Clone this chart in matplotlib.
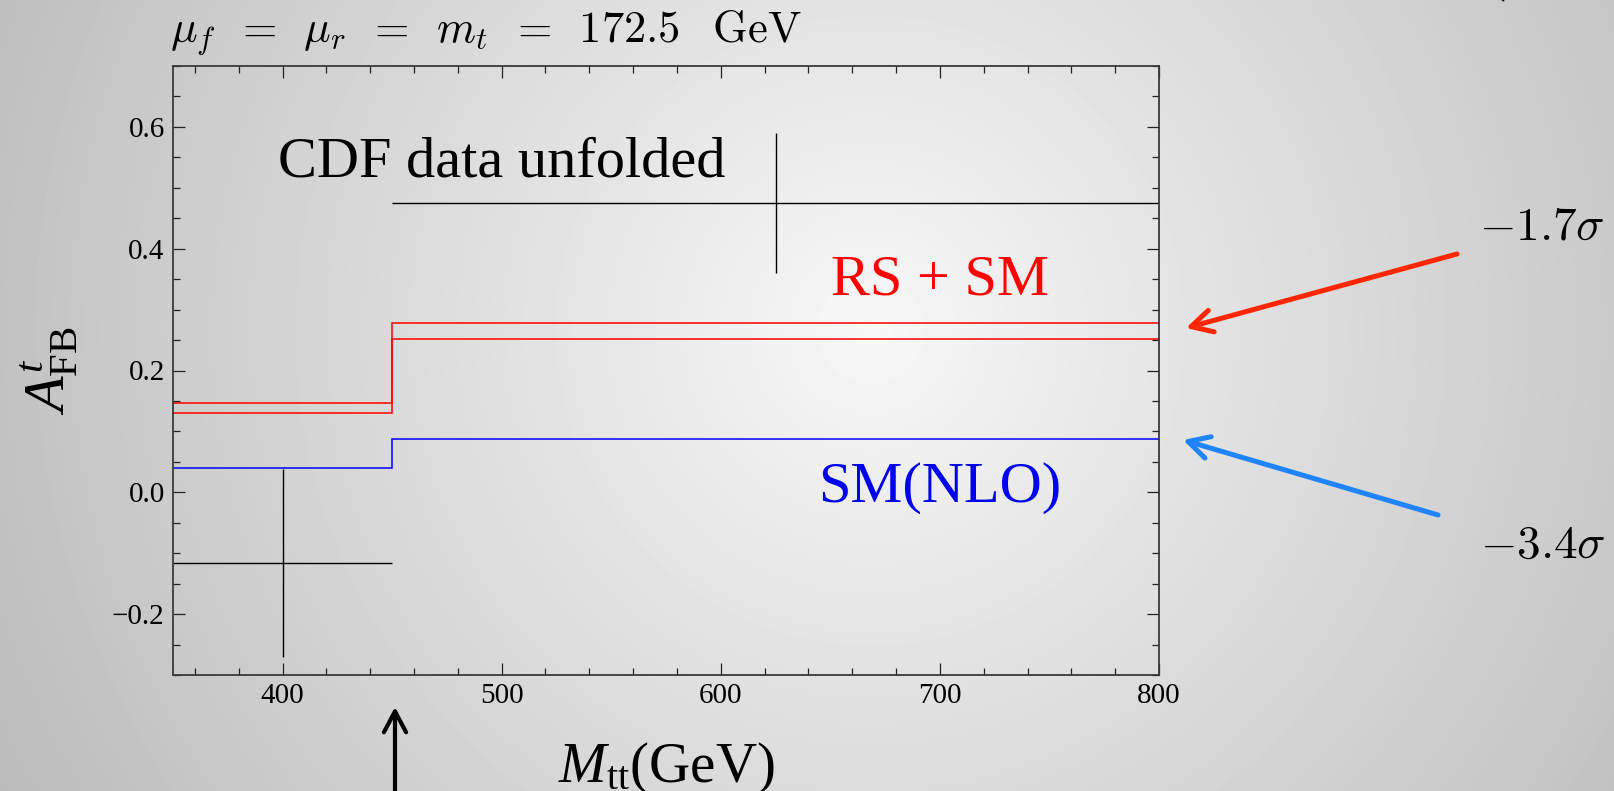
import numpy as np
import matplotlib
matplotlib.use("Agg")
import matplotlib.pyplot as plt
from matplotlib.ticker import MultipleLocator, FuncFormatter

# data
bin_edges = [350, 450, 800]
sm_nlo = [0.040, 0.088]
rs_sm_upper = [0.147, 0.278]
rs_sm_lower = [0.131, 0.251]
cdf_x = [400, 625]
cdf_val = [-0.116, 0.475]
cdf_err = [0.155, 0.115]

plt.rcParams['font.family'] = ['Liberation Serif', 'DejaVu Serif']
plt.rcParams['mathtext.fontset'] = 'custom'
plt.rcParams['mathtext.rm'] = 'Liberation Serif'
plt.rcParams['mathtext.it'] = 'Liberation Serif:italic'
plt.rcParams['mathtext.bf'] = 'Liberation Serif:bold'

W, H = 1614, 791
fig = plt.figure(figsize=(W / 100, H / 100), dpi=100)

# grey radial background
bg = fig.add_axes([0, 0, 1, 1], zorder=-10)
yy, xx = np.mgrid[0:H, 0:W]
r = np.hypot(xx - 870, yy - 330)
shade = np.clip(0.97 - 0.00024 * r, 0, 1)
bg.imshow(shade, cmap='gray', vmin=0, vmax=1, extent=(0, W, H, 0), aspect='auto')
bg.axis('off')

# axes box (pixels: left 173, right 1159, top 66, bottom 675)
ax = fig.add_axes([173 / W, (H - 675) / H, (1159 - 173) / W, (675 - 66) / H])
ax.set_facecolor('none')

ax.stairs(rs_sm_upper, bin_edges, baseline=None, color='#ff0000', lw=1.1)
ax.stairs(rs_sm_lower, bin_edges, baseline=None, color='#ff0000', lw=1.1)
ax.stairs(sm_nlo, bin_edges, baseline=None, color='#0000ff', lw=1.1)

ax.hlines(cdf_val, bin_edges[:-1], bin_edges[1:], color='black', lw=1.0)
ax.vlines(cdf_x, np.array(cdf_val) - np.array(cdf_err), np.array(cdf_val) + np.array(cdf_err),
          color='black', lw=1.0)

ax.text(500, 0.518, 'CDF data unfolded', fontsize=42, ha='center', va='baseline')
ax.text(700, 0.324, 'RS + SM', fontsize=42, ha='center', va='baseline', color='#ff0000')
ax.text(700, -0.016, 'SM(NLO)', fontsize=42, ha='center', va='baseline', color='#0000ee')

ax.set_xlim(350, 800)
ax.set_ylim(-0.3, 0.7)
ax.xaxis.set_major_locator(MultipleLocator(100))
ax.xaxis.set_minor_locator(MultipleLocator(20))
ax.yaxis.set_major_locator(MultipleLocator(0.2))
ax.yaxis.set_minor_locator(MultipleLocator(0.05))
ax.yaxis.set_major_formatter(FuncFormatter(lambda v, p: ('%.1f' % v).replace('-', '\u2212')))
ax.tick_params(which='both', direction='in', top=True, right=True, width=0.9, color='#222222')
ax.tick_params(which='major', length=8.5, labelsize=21, pad=6)
ax.tick_params(which='minor', length=5)
for s in ax.spines.values():
    s.set_color('#3a3a3a')
    s.set_linewidth(1.3)

ax.set_xlabel(r'$M_{\mathrm{tt}}(\mathrm{GeV})$', fontsize=41, va='baseline')
ax.xaxis.set_label_coords(0.5, -(782 - 675) / (675 - 66))
ax.set_ylabel(r'$A^{t}_{\mathrm{FB}}$', fontsize=42)
ax.yaxis.set_label_coords(-(173 - 80) / (1159 - 173), 0.5)

fig.text(170 / W, 1 - 41 / H,
         r'$\mu_f\ \,=\ \,\mu_r\ \,=\ \,m_t\ \,=\ \,172.5\ \ \,\mathrm{GeV}$',
         fontsize=32, math_fontfamily='cm', ha='left', va='baseline')

# sigma labels and arrows (pixel positions measured from top)
fig.text(1542 / W, 1 - 240 / H, r'$-1.7\sigma$', fontsize=34, math_fontfamily='cm',
         ha='center', va='baseline')
fig.text(1543 / W, 1 - 558 / H, r'$-3.4\sigma$', fontsize=34, math_fontfamily='cm',
         ha='center', va='baseline')
fig.text(1490 / W, 1 + 8 / H, '(', fontsize=34, math_fontfamily='cm', ha='left', va='baseline')


def arrow(tail, head, color, lw):
    ax.annotate('', xy=(head[0], H - head[1]), xycoords='figure pixels',
                xytext=(tail[0], H - tail[1]), textcoords='figure pixels',
                arrowprops=dict(arrowstyle='->, head_length=0.75, head_width=0.4',
                                color=color, lw=lw, mutation_scale=20,
                                shrinkA=0, shrinkB=0),
                annotation_clip=False)


arrow((1457, 254), (1186, 328), '#ff2600', 3.6)
arrow((1438, 515), (1183, 440), '#1e84ff', 3.6)
arrow((395, 800), (395, 707), 'black', 3.0)

fig.savefig('out.png', dpi=100)
